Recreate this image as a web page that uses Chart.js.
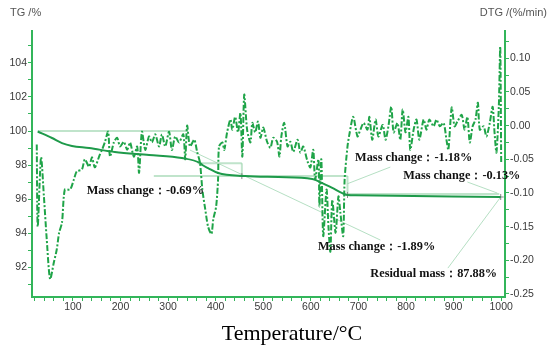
<!DOCTYPE html>
<html>
<head>
<meta charset="utf-8">
<title>TG / DTG</title>
<script src="https://cdn.jsdelivr.net/npm/chart.js@4/dist/chart.umd.min.js"></script>
<style>
    body { margin: 0; background: #ffffff; }
    #wrap { width: 550px; height: 348px; }
</style>
</head>
<body>
<div id="wrap"><canvas id="tgChart" width="550" height="348"></canvas></div>
<script>
// TG / DTG thermogram
// =====================

// --- TG curve (mass %) ---
const tgTemp  = [26, 56, 77, 98, 134, 188, 260, 329, 367, 372, 384, 405, 462, 532, 603, 624, 645, 666, 677, 694, 999];
const tgValue = [99.97, 99.59, 99.29, 99.12, 99.0, 98.76, 98.59, 98.41, 98.12, 98.0, 97.82, 97.53, 97.35, 97.29, 97.18, 96.94, 96.65, 96.35, 96.24, 96.22, 96.12];

// --- DTG curve (%/min) ---
const dtgTemp = [
    24, 26, 33, 39, 45, 52, 60, 66, 71, 77,
    83, 94, 102, 108, 119, 125, 134, 140, 146, 155,
    161, 167, 174, 178, 186, 193, 199, 207, 214, 220,
    228, 235, 239, 245, 252, 260, 266, 273, 281, 287,
    294, 302, 308, 315, 323, 332, 336, 340, 346, 355,
    361, 367, 372, 378, 384, 391, 395, 401, 405, 407,
    414, 418, 424, 431, 435, 441, 447, 452, 456, 460,
    466, 473, 477, 483, 489, 494, 500, 508, 515, 521,
    529, 534, 538, 544, 551, 557, 563, 572, 578, 584,
    593, 599, 605, 609, 616, 618, 622, 626, 633, 637,
    641, 645, 652, 658, 662, 668, 671, 677, 681, 689,
    698, 704, 711, 719, 723, 729, 736, 742, 751, 757,
    763, 769, 774, 782, 788, 793, 799, 805, 809, 816,
    822, 828, 837, 843, 849, 858, 864, 871, 879, 885,
    889, 896, 902, 908, 917, 923, 929, 934, 940, 946,
    951, 955, 963, 969, 976, 982, 986, 990, 995, 998, 1000
];
const dtgValue = [
    -0.028, -0.150, -0.047, -0.105, -0.169, -0.228, -0.203, -0.184, -0.159, -0.144,
    -0.095, -0.095, -0.080, -0.068, -0.065, -0.050, -0.061, -0.047, -0.062, -0.046,
    -0.036, -0.025, -0.009, -0.046, -0.025, -0.018, -0.031, -0.024, -0.036, -0.025,
    -0.046, -0.031, -0.070, -0.009, -0.036, -0.016, -0.025, -0.013, -0.031, -0.013,
    -0.031, -0.009, -0.036, -0.016, -0.025, -0.013, -0.050, 0.000, -0.031, -0.021,
    -0.039, -0.055, -0.095, -0.124, -0.150, -0.161, -0.139, -0.120, -0.080, -0.031,
    -0.025, -0.036, -0.010, 0.009, -0.006, 0.013, -0.010, 0.019, -0.046, 0.046,
    -0.006, -0.025, 0.004, -0.010, 0.006, -0.018, -0.003, -0.024, -0.033, -0.018,
    -0.024, -0.046, -0.016, 0.004, -0.031, -0.024, -0.039, -0.021, -0.040, -0.031,
    -0.053, -0.062, -0.036, -0.080, -0.050, -0.120, -0.050, -0.164, -0.095, -0.150,
    -0.187, -0.110, -0.159, -0.105, -0.129, -0.164, -0.080, -0.031, -0.013, 0.013,
    -0.016, -0.006, 0.004, -0.006, 0.013, -0.021, 0.009, -0.016, 0.001, -0.021,
    -0.001, 0.028, -0.010, 0.004, -0.021, 0.024, -0.010, 0.013, -0.036, -0.006,
    0.009, -0.021, 0.009, -0.006, 0.009, -0.001, 0.009, -0.001, 0.004, -0.021,
    -0.036, 0.027, -0.001, 0.006, 0.016, -0.006, 0.013, -0.025, -0.001, 0.009,
    0.034, -0.006, -0.001, -0.016, 0.004, 0.028, -0.010, -0.040, 0.028, 0.117, -0.055
];

// --- step evaluation lines (temperature, TG %) ---
const stepLines = [
    [[26, 100], [342, 100]],
    [[362, 98.1], [455, 98.1]],
    [[455, 98.1], [455, 97.35]],
    [[270, 97.35], [677, 97.35]],
    [[677, 97.35], [677, 96.3]],
    [[677, 96.3], [996, 96.3]]
];

// --- leader lines from labels to curve ---
const leaderLines = [
    [[346, 98.88], [746, 93.59]],
    [[767, 97.88], [677, 96.9]],
    [[929, 97.0], [992, 96.35]],
    [[888, 91.94], [999, 96.12]]
];

// step markers
const markTemp = [455, 677, 999];
const markTG   = [97.35, 96.24, 96.12];

// --- annotation labels (anchored in temperature / TG %) ---
const noteTexts = ['Mass change：-0.69%', 'Mass change：-1.18%', 'Mass change：-0.13%', 'Mass change：-1.89%', 'Residual mass：87.88%'];
const noteTemp  = [129, 693, 794, 615, 725];
const noteTG    = [96.5, 98.4, 97.35, 93.2, 91.58];

// --- axes ---
const xLabelTicks   = [100, 200, 300, 400, 500, 600, 700, 800, 900, 1000];
const tgLabelTicks  = [92, 94, 96, 98, 100, 102, 104];
const dtgLabelTicks = [-0.25, -0.20, -0.15, -0.10, -0.05, 0.00, 0.05, 0.10];

const GREEN_AXIS = '#33b55a';
const GREEN_TG = '#1e9a4a';
const GREEN_DTG = '#1fa448';
const LIGHT = 'rgba(140, 205, 160, 0.55)';

function toPoints(xs, ys) {
    return xs.map((x, i) => ({ x: x, y: ys[i] }));
}

function segmentToPoints(seg) {
    return seg.map(p => ({ x: p[0], y: p[1] }));
}

// minor tick helpers
function rangeTicks(from, to, step) {
    const out = [];
    const n = Math.round((to - from) / step);
    for (let i = 0; i <= n; i++) out.push(+(from + i * step).toFixed(4));
    return out;
}

// Draw all the texts
const textPlugin = {
    id: 'textLabels',
    afterDraw(chart) {
        const ctx = chart.ctx;
        const xs = chart.scales.x;
        const ys = chart.scales.yTG;
        ctx.save();

        ctx.font = '11px "Liberation Sans", Arial, sans-serif';
        ctx.fillStyle = '#555555';
        ctx.textBaseline = 'middle';
        ctx.textAlign = 'left';
        ctx.fillText('TG /%', 10, 13);
        ctx.textAlign = 'right';
        ctx.fillText('DTG /(%/min)', 547, 13);

        ctx.font = '22px "Liberation Serif", "Times New Roman", serif';
        ctx.fillStyle = '#000000';
        ctx.textAlign = 'center';
        ctx.textBaseline = 'alphabetic';
        ctx.fillText('Temperature/°C', 292, 340);

        ctx.font = 'bold 12.3px "Liberation Serif", "Times New Roman", serif';
        ctx.fillStyle = '#111111';
        ctx.textAlign = 'left';
        ctx.textBaseline = 'middle';
        noteTexts.forEach((t, i) => {
            ctx.fillText(t, xs.getPixelForValue(noteTemp[i]), ys.getPixelForValue(noteTG[i]));
        });
        ctx.restore();
    }
};

function renderChart() {
    const datasets = [];

    datasets.push({
        label: 'TG',
        data: toPoints(tgTemp, tgValue),
        yAxisID: 'yTG',
        borderColor: GREEN_TG,
        borderWidth: 2,
        pointRadius: 0,
        cubicInterpolationMode: 'monotone'
    });

    datasets.push({
        label: 'DTG',
        data: toPoints(dtgTemp, dtgValue),
        yAxisID: 'yDTG',
        borderColor: GREEN_DTG,
        borderWidth: 2,
        borderDash: [6, 2, 2, 2],
        pointRadius: 0,
        tension: 0.25
    });

    datasets.push({
        label: 'marks',
        data: toPoints(markTemp, markTG),
        yAxisID: 'yTG',
        showLine: false,
        pointStyle: 'cross',
        pointRadius: 3,
        pointBorderColor: '#888888',
        pointBorderWidth: 1
    });

    stepLines.forEach(seg => {
        datasets.push({
            data: segmentToPoints(seg),
            yAxisID: 'yTG',
            borderColor: LIGHT,
            borderWidth: 2,
            pointRadius: 0
        });
    });

    leaderLines.forEach(seg => {
        datasets.push({
            data: segmentToPoints(seg),
            yAxisID: 'yTG',
            borderColor: 'rgba(150, 210, 170, 0.7)',
            borderWidth: 1,
            pointRadius: 0
        });
    });

    const tickFont = { family: '"Liberation Sans", Arial, sans-serif', size: 10.5 };

    new Chart(document.getElementById('tgChart').getContext('2d'), {
        type: 'line',
        data: { datasets: datasets },
        options: {
            responsive: false,
            animation: false,
            devicePixelRatio: 1,
            layout: { padding: { top: 31, left: 0, right: 0, bottom: 0 } },
            plugins: { legend: { display: false }, tooltip: { enabled: false } },
            scales: {
                x: {
                    type: 'linear',
                    min: 14,
                    max: 1008,
                    afterBuildTicks: s => { s.ticks = rangeTicks(20, 1000, 20).map(v => ({ value: v })); },
                    afterFit: s => { s.height = 51; },
                    ticks: {
                        autoSkip: false,
                        maxRotation: 0,
                        padding: 0,
                        color: '#3a3a3a',
                        font: tickFont,
                        callback: v => xLabelTicks.includes(v) ? String(v) : ''
                    },
                    grid: { drawOnChartArea: false, tickLength: 4, color: GREEN_AXIS },
                    border: { color: GREEN_AXIS, width: 2 }
                },
                yTG: {
                    type: 'linear',
                    position: 'left',
                    min: 90.24,
                    max: 105.88,
                    afterBuildTicks: s => { s.ticks = rangeTicks(91, 105, 1).map(v => ({ value: v })); },
                    afterFit: s => { s.width = 32; },
                    ticks: {
                        autoSkip: false,
                        padding: 1,
                        color: '#3a3a3a',
                        font: tickFont,
                        callback: v => tgLabelTicks.includes(v) ? String(v) : ''
                    },
                    grid: { drawOnChartArea: false, tickLength: 4, color: GREEN_AXIS },
                    border: { color: GREEN_AXIS, width: 2 }
                },
                yDTG: {
                    type: 'linear',
                    position: 'right',
                    min: -0.2545,
                    max: 0.1405,
                    afterBuildTicks: s => { s.ticks = rangeTicks(-0.25, 0.125, 0.025).map(v => ({ value: v })); },
                    afterFit: s => { s.width = 45; },
                    ticks: {
                        autoSkip: false,
                        padding: 1,
                        color: '#3a3a3a',
                        font: tickFont,
                        callback: v => dtgLabelTicks.some(t => Math.abs(t - v) < 1e-6) ? v.toFixed(2) : ''
                    },
                    grid: { drawOnChartArea: false, tickLength: 4, color: GREEN_AXIS },
                    border: { color: GREEN_AXIS, width: 2 }
                }
            }
        },
        plugins: [textPlugin]
    });
}

renderChart();
</script>
</body>
</html>
